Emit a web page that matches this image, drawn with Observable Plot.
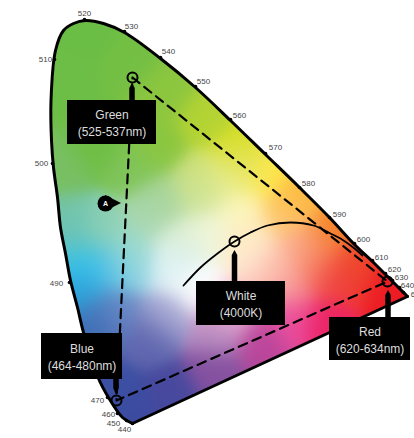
<!DOCTYPE html>
<html>
<head>
<meta charset="utf-8">
<style>html,body{margin:0;padding:0;background:#fff}svg{display:block}</style>
<script src="https://cdn.jsdelivr.net/npm/d3@7"></script>
<script src="https://cdn.jsdelivr.net/npm/@observablehq/plot@0.6"></script>
</head>
<body>
<div id="chart"></div>
<script>
// spectral locus (chromaticity)
const locusX = [.164,.144,.116,.096,.066,.054,.040,.030,.020,.014,.006,.002,.001,.010,.026,.046,.070,.106,.148,.220,.290,.360,.430,.498,.558,.608,.644,.670,.684,.698,.714];
const locusY = [.014,.026,.066,.104,.196,.246,.300,.354,.406,.466,.526,.580,.660,.760,.800,.814,.820,.814,.796,.744,.686,.620,.552,.486,.426,.372,.338,.312,.298,.284,.268];
// wavelength ticks
const waveTicks = [440,450,460,470,490,500,510,520,530,540,550,560,570,580,590,600,610,620,630,640,650];
const tickX = [.164,.152,.134,.114,.038,.004,.008,.068,.148,.220,.290,.360,.430,.498,.558,.608,.644,.670,.684,.698,.706];
const tickY = [.014,.020,.034,.066,.296,.534,.742,.822,.798,.746,.688,.622,.554,.486,.426,.374,.340,.314,.300,.286,.276];
const waveLabelX = [.148,.126,.116,.094,.012,-.018,-.010,.068,.162,.236,.306,.378,.450,.516,.578,.626,.662,.688,.702,.714,.734];
const waveLabelY = [.002,.014,.032,.060,.294,.534,.742,.834,.808,.758,.698,.630,.566,.494,.432,.382,.346,.322,.306,.290,.272];
// gamut triangle: green, red, blue
const gamutX = [.164,.674,.132,.164];
const gamutY = [.706,.298,.060,.706];
// LED points: green, red, blue, white
const ledX = [.164,.674,.132,.368];
const ledY = [.706,.298,.060,.378];
// Planckian locus
const planckX = [.266,.300,.334,.368,.400,.434,.480,.526,.560,.580,.608,.624];
const planckY = [.290,.326,.354,.378,.396,.410,.416,.410,.394,.384,.364,.350];
// label boxes
const boxNames = ["Green\n(525-537nm)","Blue\n(464-480nm)","White\n(4000K)","Red\n(620-634nm)"];
const boxX1 = [.034,-.018,.292,.558];
const boxX2 = [.212,.144,.470,.720];
const boxY1 = [.572,.102,.210,.140];
const boxY2 = [.660,.194,.298,.226];
// pins from box to LED point
const pinName = ["g","g","g","b","b","b","w","w","w","r","r","r"];
const pinY  = [.694,.684,.660,.070,.084,.102,.360,.350,.298,.280,.270,.226];
const pinX1 = [.164,.1585,.1585,.132,.1265,.1265,.369,.3635,.3635,.676,.6705,.6705];
const pinX2 = [.164,.1695,.1695,.132,.1375,.1375,.369,.3745,.3745,.676,.6815,.6815];
// colour field samples
const colorX = [.070,.020,.160,.230,.310,.370,.430,.490,.560,.610,.670,.700,.548,.482,.422,.330,.240,.164,.124,.094,.060,.060,.030,.040,.020,.094,.214,.226,.300,.160,.100,.260,.240,.290,.394,.348,.462,.528,.600,.360,.482,.334,.226,.194,.134,.114,.166,.200,.166,.300,.380,.380,.320,.254,.400,.434,.466,.500,.534,.566];
const colorY = [.800,.700,.740,.680,.620,.560,.510,.460,.390,.336,.290,.270,.220,.220,.174,.120,.070,.030,.080,.214,.280,.334,.420,.380,.520,.574,.566,.460,.500,.360,.400,.380,.320,.290,.386,.500,.320,.354,.310,.240,.286,.194,.234,.186,.240,.326,.326,.426,.526,.474,.526,.440,.394,.346,.360,.326,.426,.360,.326,.306];
const colorHex = ["#6abd45","#6dbe46","#73bf44","#8cc63f","#b3d334","#d7df23","#ffe94a","#fdb83f","#f58220","#ef4b27","#ed1c24","#ed1c24","#ec2265","#ec50a0","#b9459a","#84509f","#47499e","#3b4ba0","#3c50a3","#3f6cb4","#2da0d8","#2fc3ee","#74c4a8","#62c2c0","#78bf62","#6fbe44","#8bc63f","#a9d59a","#c8dd70","#a2dcc8","#8dd0b4","#e0f0d0","#e6f6f8","#ffffff","#fde9bb","#eef09a","#fcbfa0","#f9976a","#ee3e33","#f5b6d6","#f48a9c","#b78bc0","#a8a9d4","#5f65ae","#6a8ac6","#4fc0e8","#8dd3e5","#a8d6b0","#7fc45a","#d0e6a8","#e3e36a","#fdf8c0","#f0f6dc","#d8eef2","#fff0d8","#fcc8c0","#fdc874","#fbb19a","#f46a50","#ef3f45"];

const samples = colorHex.map((c, i) => { const k = d3.rgb(c); return {x: colorX[i], y: colorY[i], r: k.r, g: k.g, b: k.b}; });
const polygon = locusX.map((x, i) => [x, locusY[i]]);
const sigma2 = 2 * 0.032 * 0.032;
function field(x, y) {
  if (!d3.polygonContains(polygon, [x, y])) return null;
  let w = 0, r = 0, g = 0, b = 0;
  for (const s of samples) {
    const t = Math.exp(-((x - s.x) ** 2 + (y - s.y) ** 2) / sigma2) + 1e-12;
    w += t; r += t * s.r; g += t * s.g; b += t * s.b;
  }
  return `rgb(${Math.round(r / w)},${Math.round(g / w)},${Math.round(b / w)})`;
}

const rows = (...cols) => cols[0].map((_, i) => cols.map(c => c[i]));
const locus = rows(locusX, locusY);
const closure = [locus[locus.length - 1], locus[0]];
const ticks = rows(tickX, tickY);
const labels = rows(waveLabelX, waveLabelY, waveTicks);
const gamut = rows(gamutX, gamutY);
const leds = rows(ledX, ledY);
const planck = rows(planckX, planckY);
const boxes = rows(boxX1, boxX2, boxY1, boxY2, boxNames);
const pins = rows(pinName, pinY, pinX1, pinX2);
const font = "'Liberation Sans', Arial, sans-serif";

const chart = Plot.plot({
  width: 414, height: 438,
  margin: 0,
  style: {background: "#fff", fontFamily: font},
  x: {domain: [-.1, .728], range: [0, 414], axis: null},
  y: {domain: [-.016, .86], range: [438, 0], axis: null},
  marks: [
    Plot.raster({fill: field, x1: -.1, x2: .728, y1: -.016, y2: .86, pixelSize: 1, imageRendering: "auto"}),
    Plot.line(gamut, {x: d => d[0], y: d => d[1], stroke: "#000", strokeWidth: 2.2, strokeDasharray: "9,6"}),
    Plot.line(planck, {x: d => d[0], y: d => d[1], stroke: "#000", strokeWidth: 1.8, curve: "catmull-rom"}),
    Plot.line(locus, {x: d => d[0], y: d => d[1], stroke: "#000", strokeWidth: 3, curve: "catmull-rom"}),
    Plot.line(closure, {x: d => d[0], y: d => d[1], stroke: "#000", strokeWidth: 3, strokeLinecap: "round"}),
    Plot.dot(ticks, {x: d => d[0], y: d => d[1], r: 1.8, fill: "#000", stroke: null}),
    Plot.text(labels, {x: d => d[0], y: d => d[1], text: d => String(d[2]), fontSize: 8, fill: "#444"}),
    Plot.dot(leds, {x: d => d[0], y: d => d[1], r: 5, fill: "none", stroke: "#000", strokeWidth: 2}),
    Plot.area(pins, {x1: d => d[2], x2: d => d[3], y1: d => d[1], y2: d => d[1], z: d => d[0], fill: "#000"}),
    Plot.rect(boxes, {x1: d => d[0], x2: d => d[1], y1: d => d[2], y2: d => d[3], fill: "#000", inset: 0}),
    Plot.text(boxes, {x: d => (d[0] + d[1]) / 2, y: d => (d[2] + d[3]) / 2, text: d => d[4], fill: "#ddd", fontSize: 12, lineHeight: 1.4}),
    // marker A
    Plot.area([[.110,.470,.438],[.142,.454,.454]], {x1: d => d[0], x2: d => d[0], y1: d => d[1], y2: d => d[2], fill: "#000"}),
    Plot.dot([[.110,.454]], {x: d => d[0], y: d => d[1], r: 8, fill: "#000", stroke: null}),
    Plot.text([[.110,.454]], {x: d => d[0], y: d => d[1], text: () => "A", fill: "#fff", fontSize: 7, fontWeight: "bold"})
  ]
});
document.getElementById("chart").appendChild(chart);
</script>
</body>
</html>
